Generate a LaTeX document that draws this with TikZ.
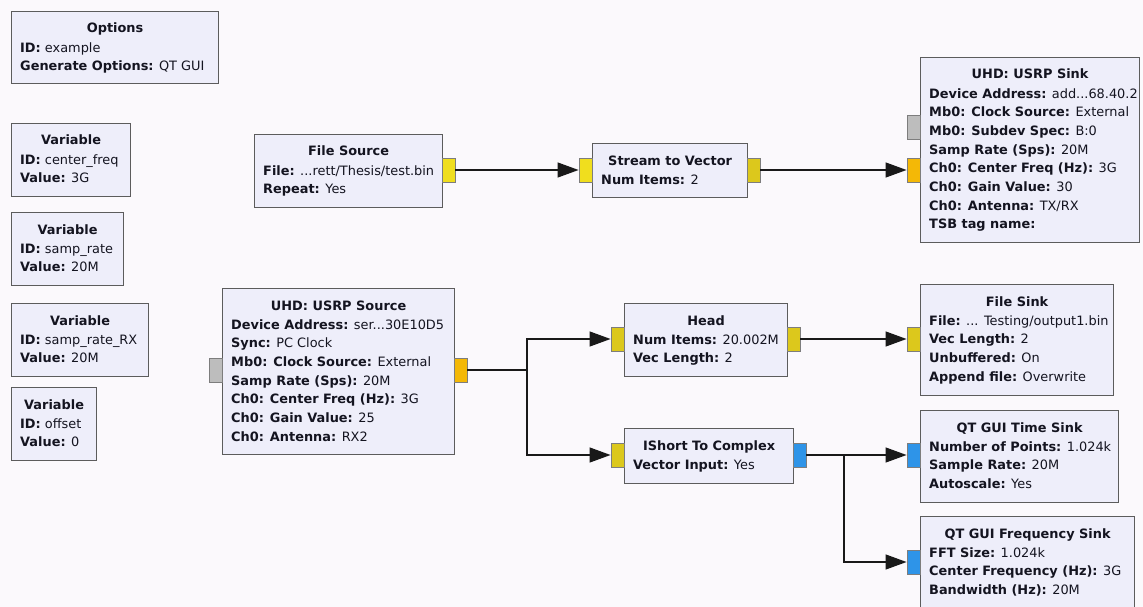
\documentclass[tikz,border=0pt]{standalone}
\usepackage{fontspec}
\setmainfont{DejaVu Sans}
\usetikzlibrary{arrows.meta,calc}
\definecolor{bgc}{HTML}{FBF9FC}
\definecolor{boxfill}{HTML}{EEEEFA}
\definecolor{boxline}{HTML}{5C5C5C}
\definecolor{pyellowA}{HTML}{F0DE1E}
\definecolor{pyellowB}{HTML}{DCC81C}
\definecolor{porange}{HTML}{F4B806}
\definecolor{pblue}{HTML}{2E94E8}
\definecolor{pgray}{HTML}{BDBDBD}
\definecolor{txt}{HTML}{141420}
\newcommand\grcdots{...}
\newcommand\grcfont{\fontsize{12.9}{15}\selectfont}
\newcommand\grcblock[7]{%
  \node[blk, minimum width=#4pt, minimum height=#5pt] (#1) at (#2,#3) {};
  \node[anchor=base, inner sep=0pt, font=\grcfont\bfseries, text=txt] (#1-title) at ($(#1.north)+(0,22)$) {#6};
  \foreach \ln [count=\i] in {#7} {
    \node[anchor=base west, inner sep=0pt, font=\grcfont, text=txt] (#1-l\i) at ($(#1.north west)+(9,{13+(\i+0.5)*18.7})$) {\ln};
  }%
}
\tikzset{
  blk/.style={draw=boxline, fill=boxfill, line width=1.2pt, anchor=north west, inner sep=0pt, rectangle},
  port/.style={draw=boxline!80, line width=0.9pt, minimum width=13pt, minimum height=24pt, inner sep=0pt, rectangle},
  conn/.style={draw=black!90, line width=1.3pt},
  tip/.style={-{Triangle[length=21pt,width=15pt]}},
}
\begin{document}
\begin{tikzpicture}[x=1pt,y=-1pt]
\useasboundingbox (0,0) rectangle (1143,607);
\fill[bgc] (0,0) rectangle (1143,607);

\grcblock{opts}{11}{11}{207}{72}{Options}{{\textbf{ID:} example},{\textbf{Generate Options:} QT GUI}}
\grcblock{var1}{11}{123}{119}{73}{Variable}{{\textbf{ID:} center\_freq},{\textbf{Value:} 3G}}
\grcblock{var2}{11}{212}{112}{73}{Variable}{{\textbf{ID:} samp\_rate},{\textbf{Value:} 20M}}
\grcblock{var3}{11}{303}{137}{73}{Variable}{{\textbf{ID:} samp\_rate\_RX},{\textbf{Value:} 20M}}
\grcblock{var4}{11}{387}{85}{73}{Variable}{{\textbf{ID:} offset},{\textbf{Value:} 0}}

\grcblock{fsrc}{254}{134}{188}{73}{File Source}{{\textbf{File:} \grcdots rett/Thesis/test.bin},{\textbf{Repeat:} Yes}}
\grcblock{s2v}{592}{143}{155}{54}{Stream to Vector}{{\textbf{Num Items:} 2}}
\grcblock{usink}{920}{57}{219}{185}{UHD: USRP Sink}{{\textbf{Device Address:} add\grcdots 68.40.2},{\textbf{Mb0: Clock Source:} External},{\textbf{Mb0: Subdev Spec:} B:0},{\textbf{Samp Rate (Sps):} 20M},{\textbf{Ch0: Center Freq (Hz):} 3G},{\textbf{Ch0: Gain Value:} 30},{\textbf{Ch0: Antenna:} TX/RX},{\textbf{TSB tag name:}}}
\grcblock{usrc}{222}{288}{232}{166}{UHD: USRP Source}{{\textbf{Device Address:} ser\grcdots 30E10D5},{\textbf{Sync:} PC Clock},{\textbf{Mb0: Clock Source:} External},{\textbf{Samp Rate (Sps):} 20M},{\textbf{Ch0: Center Freq (Hz):} 3G},{\textbf{Ch0: Gain Value:} 25},{\textbf{Ch0: Antenna:} RX2}}
\grcblock{head}{624}{303}{163}{73}{Head}{{\textbf{Num Items:} 20.002M},{\textbf{Vec Length:} 2}}
\grcblock{fsink}{920}{284}{193}{111}{File Sink}{{\textbf{File:} \grcdots{} Testing/output1.bin},{\textbf{Vec Length:} 2},{\textbf{Unbuffered:} On},{\textbf{Append file:} Overwrite}}
\grcblock{ish}{624}{428}{169}{55}{IShort To Complex}{{\textbf{Vector Input:} Yes}}
\grcblock{tsink}{920}{410}{198}{92}{QT GUI Time Sink}{{\textbf{Number of Points:} 1.024k},{\textbf{Sample Rate:} 20M},{\textbf{Autoscale:} Yes}}
\grcblock{fqsink}{920}{516}{214}{92}{QT GUI Frequency Sink}{{\textbf{FFT Size:} 1.024k},{\textbf{Center Frequency (Hz):} 3G},{\textbf{Bandwidth (Hz):} 20M}}

% ports
\node[port, fill=pyellowA] (fsrc-out) at (448.5,170) {};
\node[port, fill=pyellowA] (s2v-in) at (585.5,170) {};
\node[port, fill=pyellowB] (s2v-out) at (753.5,170) {};
\node[port, fill=pgray] (usink-msg) at (913.5,127) {};
\node[port, fill=porange] (usink-in) at (913.5,170) {};
\node[port, fill=pgray] (usrc-msg) at (215.5,370) {};
\node[port, fill=porange] (usrc-out) at (460.5,370) {};
\node[port, fill=pyellowB] (head-in) at (617.5,339) {};
\node[port, fill=pyellowB] (head-out) at (793.5,339) {};
\node[port, fill=pyellowB] (fsink-in) at (913.5,339) {};
\node[port, fill=pyellowB] (ish-in) at (617.5,455) {};
\node[port, fill=pblue] (ish-out) at (799.5,455) {};
\node[port, fill=pblue] (tsink-in) at (913.5,455) {};
\node[port, fill=pblue] (fqsink-in) at (913.5,562) {};

% connectors
\coordinate (br1) at (527,370);
\coordinate (br2) at (844,455);
\draw[conn, tip] (fsrc-out.east) -- (s2v-in.west);
\draw[conn, tip] (s2v-out.east) -- (usink-in.west);
\draw[conn] (usrc-out.east) -- (br1);
\draw[conn, tip] (br1) |- (head-in.west);
\draw[conn, tip] (br1) |- (ish-in.west);
\draw[conn, tip] (head-out.east) -- (fsink-in.west);
\draw[conn, tip] (ish-out.east) -- (tsink-in.west);
\draw[conn, tip] (br2) |- (fqsink-in.west);
\end{tikzpicture}
\end{document}
